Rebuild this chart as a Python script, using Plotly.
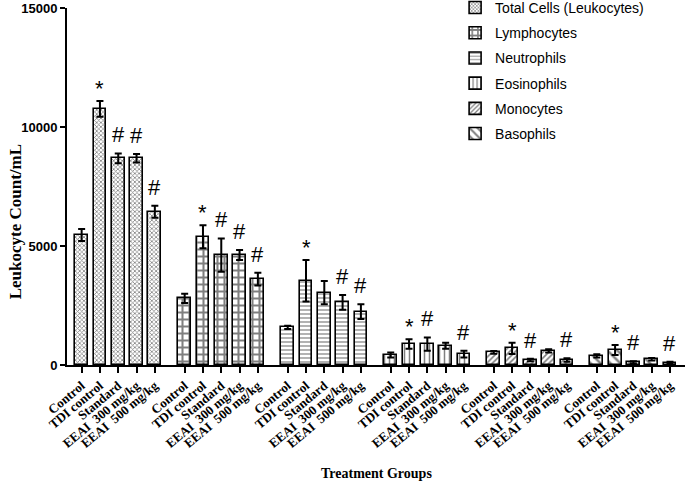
import plotly.graph_objects as go

groups = ["Control", "TDI control", "Standard", "EEAI\u00a0 300 mg/kg", "EEAI\u00a0 500 mg/kg"]
series_names = ["Total Cells (Leukocytes)", "Lymphocytes", "Neutrophils",
                "Eosinophils", "Monocytes", "Basophils"]

total_vals = [5460, 10760, 8685, 8685, 6440]
total_err = [250, 330, 205, 180, 250]
lymph_vals = [2800, 5390, 4620, 4620, 3610]
lymph_err = [195, 480, 700, 210, 265]
neut_vals = [1580, 3540, 3040, 2630, 2240]
neut_err = [70, 870, 490, 310, 310]
eos_vals = [420, 880, 880, 810, 460]
eos_err = [100, 200, 280, 125, 140]
mono_vals = [530, 700, 210, 590, 210]
mono_err = [60, 240, 55, 70, 70]
baso_vals = [380, 630, 110, 240, 100]
baso_err = [70, 210, 45, 55, 40]

sig_total = ["", "*", "#", "#", "#"]
sig_lymph = ["", "*", "#", "#", "#"]
sig_neut = ["", "*", "", "#", "#"]
sig_eos = ["", "*", "#", "", "#"]
sig_mono = ["", "*", "#", "", "#"]
sig_baso = ["", "*", "#", "", "#"]

y_ticks = [0, 5000, 10000, 15000]
y_ticktext = ["0", "5000", "10000", "15000"]

all_vals = [total_vals, lymph_vals, neut_vals, eos_vals, mono_vals, baso_vals]
all_err = [total_err, lymph_err, neut_err, eos_err, mono_err, baso_err]
all_sig = [sig_total, sig_lymph, sig_neut, sig_eos, sig_mono, sig_baso]

patterns = [
    dict(shape="x", size=3, solidity=0.45, fgcolor="black", bgcolor="white"),
    dict(shape="+", size=7, solidity=0.5, fgcolor="black", bgcolor="white"),
    dict(shape="-", size=4, solidity=0.3, fgcolor="black", bgcolor="white"),
    dict(shape="|", size=5, solidity=0.3, fgcolor="black", bgcolor="white"),
    dict(shape="/", size=4, solidity=0.4, fgcolor="black", bgcolor="white"),
    dict(shape="\\", size=7, solidity=0.35, fgcolor="black", bgcolor="white"),
]

PITCH = 5.63
OFFSET = 0.8

fig = go.Figure()
tickvals, ticktext = [], []
annotations = []
for g, name in enumerate(series_names):
    xs = [OFFSET + g * PITCH + i for i in range(len(groups))]
    tickvals += xs
    ticktext += groups
    fig.add_trace(go.Bar(
        x=xs, y=all_vals[g], name=name, width=0.7,
        legendgroup=name,
        marker=dict(color="white", line=dict(color="black", width=1.6),
                    pattern=patterns[g]),
        error_y=dict(type="data", array=all_err[g], visible=True,
                     color="black", thickness=2, width=3.5),
    ))
    for i, s in enumerate(all_sig[g]):
        if s:
            annotations.append(dict(
                x=xs[i], y=all_vals[g][i] + all_err[g][i], text=s,
                showarrow=False, yanchor="bottom", xanchor="center",
                yshift=-2 if s == "*" else 4,
                font=dict(family="Liberation Sans", size=22, color="black"),
            ))

# axis titles as annotations for exact placement
annotations.append(dict(
    text="<b>Treatment Groups</b>", xref="paper", yref="paper",
    x=0.5, y=-0.303, xanchor="center", yanchor="middle", showarrow=False,
    font=dict(family="Liberation Serif", size=14, color="black"),
))
annotations.append(dict(
    text="<b>Leukocyte Count/mL</b>", xref="paper", yref="paper",
    x=-0.084, y=0.40, xanchor="center", yanchor="middle", showarrow=False,
    textangle=-90,
    font=dict(family="Liberation Serif", size=17, color="black"),
))

fig.update_layout(
    width=685, height=486,
    margin=dict(l=67, r=0, t=8, b=121, autoexpand=False),
    plot_bgcolor="white", paper_bgcolor="white",
    showlegend=True,
    legend=dict(x=0.628, y=1.045, xanchor="left", yanchor="top",
                font=dict(family="Liberation Sans", size=14, color="black"),
                bgcolor="rgba(0,0,0,0)", tracegroupgap=4,
                traceorder="grouped"),
    annotations=annotations,
    bargap=0,
)
fig.update_xaxes(
    range=[0, 33.77], tickmode="array", tickvals=tickvals, ticktext=ticktext,
    tickangle=-40, ticks="outside", ticklen=6, tickwidth=2, tickcolor="black",
    showline=True, linecolor="black", linewidth=2, showgrid=False, zeroline=False,
    automargin=False,
    tickfont=dict(family="Liberation Serif", size=13, color="black", weight="bold"),
)
fig.update_yaxes(
    range=[0, 15000], tickmode="array", tickvals=y_ticks, ticktext=y_ticktext,
    ticks="outside", ticklen=5, tickwidth=2, tickcolor="black",
    showline=True, linecolor="black", linewidth=2, showgrid=False, zeroline=False,
    automargin=False,
    tickfont=dict(family="Liberation Sans", size=13, color="black", weight="bold"),
)

fig.write_html("out.html", config={"displayModeBar": False},
               post_script="document.body.style.margin='0';document.body.style.overflow='hidden';")
